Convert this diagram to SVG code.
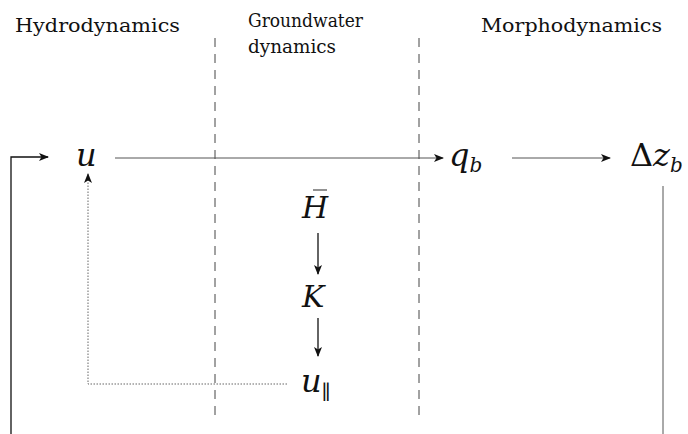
<svg xmlns="http://www.w3.org/2000/svg" width="688" height="434" viewBox="0 0 688 434">
<defs>
<style>
text{font-family:'DejaVu Serif',serif;fill:#111}
.lbl{font-size:18px}
.m{font-style:italic;font-size:32px}
.cap{font-size:30px}
.up{font-style:normal}
.sub{font-size:20px}
.sep{stroke:#444;stroke-width:1;stroke-dasharray:9 7;fill:none}
.c{stroke:#555;stroke-width:1;fill:none}
.k{stroke:#111;stroke-width:1.3;fill:none}
.d{stroke:#666;stroke-width:1;stroke-dasharray:1.5 1.5;fill:none}
</style>
<marker id="ah" markerWidth="10" markerHeight="8" refX="9" refY="4" orient="auto" markerUnits="userSpaceOnUse">
<path d="M0,0 L10,4 L0,8 L2.5,4 Z" fill="#111"/>
</marker>
</defs>
<g id="headers">
<text class="lbl" x="15" y="32" textLength="165" lengthAdjust="spacingAndGlyphs">Hydrodynamics</text>
<text class="lbl" x="248" y="27" textLength="115" lengthAdjust="spacingAndGlyphs">Groundwater</text>
<text class="lbl" x="248" y="53" textLength="88" lengthAdjust="spacingAndGlyphs">dynamics</text>
<text class="lbl" x="481" y="32" textLength="181" lengthAdjust="spacingAndGlyphs">Morphodynamics</text>
</g>
<g id="separators">
<line class="sep" x1="215" y1="38" x2="215" y2="416"/>
<line class="sep" x1="419" y1="38" x2="419" y2="416"/>
</g>
<g id="connectors">
<line class="c" x1="115" y1="158" x2="443" y2="158" marker-end="url(#ah)"/>
<line class="c" x1="512" y1="158" x2="610" y2="158" marker-end="url(#ah)"/>
<line class="c" x1="663" y1="186" x2="663" y2="434"/>
<polyline class="k" points="11,434 11,157 48,157" marker-end="url(#ah)"/>
<polyline class="d" points="287,384 88,384 88,174" marker-end="url(#ah)"/>
<line class="k" x1="318" y1="233" x2="318" y2="274" marker-end="url(#ah)"/>
<line class="k" x1="318" y1="318" x2="318" y2="356" marker-end="url(#ah)"/>
</g>
<g id="node-u"><text class="m" x="76" y="166">u</text></g>
<g id="node-qb"><text class="m" x="449" y="166">q<tspan class="sub" dy="6">b</tspan></text></g>
<g id="node-dzb"><text class="m" x="630" y="166"><tspan class="up">Δ</tspan>z<tspan class="sub" dy="6">b</tspan></text></g>
<g id="node-Hbar"><text class="m cap" x="302" y="218">H</text><line x1="313" y1="190" x2="327" y2="190" stroke="#777" stroke-width="1.6"/></g>
<g id="node-K"><text class="m cap" x="302" y="307">K</text></g>
<g id="node-upar"><text class="m" x="301" y="392">u<tspan class="sub up" dy="7">∥</tspan></text></g>
</svg>
